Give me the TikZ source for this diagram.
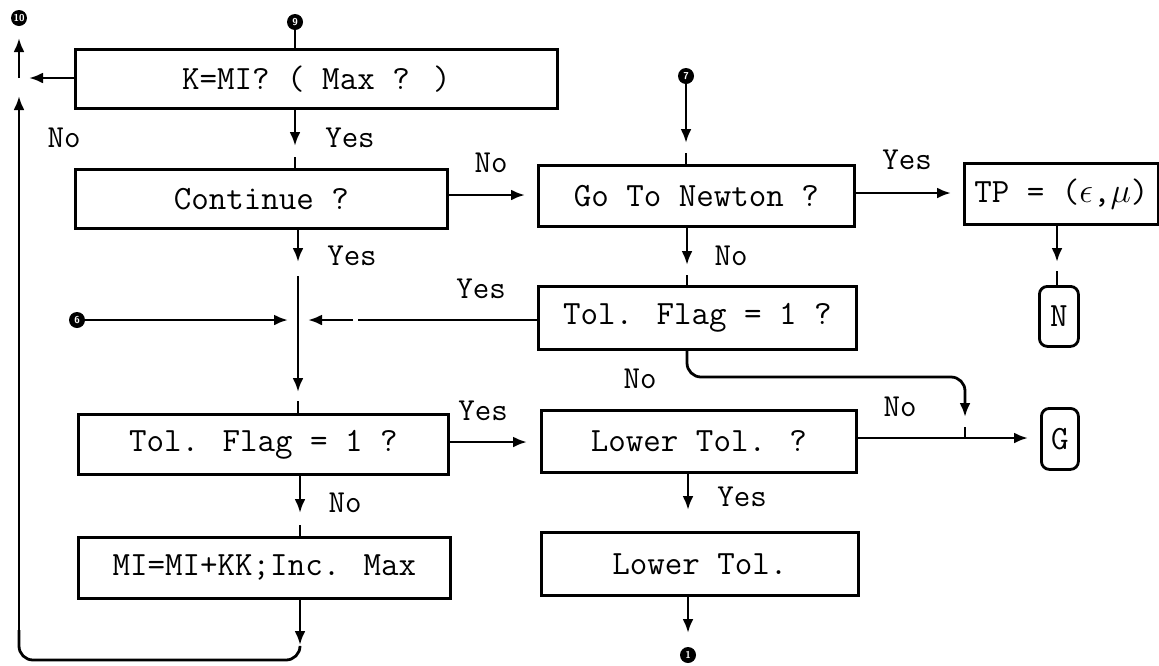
\documentclass[tikz,border=0pt]{standalone}
\usepackage{fontspec}
\usetikzlibrary{arrows.meta}
\begin{document}
\begin{tikzpicture}[x=0.5pt,y=-0.5pt,
  box/.style={draw, line width=1.4pt, inner sep=0pt, anchor=north west, font=\ttfamily\fontsize{17}{20}\selectfont},
  rbox/.style={box, rounded corners=4pt},
  lbl/.style={font=\ttfamily\fontsize{16}{18}\selectfont, inner sep=0pt},
  ln/.style={line width=1.4pt},
  arr/.style={ln, -{Latex[length=7pt,width=5.5pt]}},
  dot/.style={circle, fill=black, text=white, inner sep=0pt, minimum size=8pt, font=\sffamily\bfseries\fontsize{5}{5}\selectfont}]
\useasboundingbox (0,0) rectangle (1159,665);
% column coordinates
\coordinate (cA) at (295,0);
\coordinate (cL) at (298,0);
\coordinate (cM) at (300,0);
\coordinate (cR) at (687,0);
\coordinate (cN) at (1057,0);
\coordinate (cE) at (19,0);
% boxes
\node[box, minimum width=241pt, minimum height=29.5pt] (K) at (74,48) {K=MI? ( Max ? )\hspace{23pt}};
\node[box, minimum width=186pt, minimum height=29.5pt] (Cont) at (74,168) {Continue ?\hspace{10pt}};
\node[box, minimum width=158pt, minimum height=30.5pt] (GoN) at (537,164) {Go To Newton ?};
\node[box, minimum width=97pt, minimum height=30.5pt] (TP) at (963,162) {TP = (\(\epsilon\),\(\mu\))};
\node[rbox, minimum width=19.5pt, minimum height=30pt] (N) at (1038,285) {N};
\node[box, minimum width=159pt, minimum height=31.5pt] (TolR) at (537,285) {Tol. Flag = 1 ?};
\node[box, minimum width=157.5pt, minimum height=31pt] (LowQ) at (540,409) {Lower Tol. ?};
\node[rbox, minimum width=18.5pt, minimum height=30.5pt] (G) at (1040,407) {G};
\node[box, minimum width=185pt, minimum height=30pt] (TolL) at (77,413) {Tol. Flag = 1 ?\hspace{19pt}};
\node[box, minimum width=186pt, minimum height=30.5pt] (MI) at (77,536) {MI=MI+KK;Inc. Max};
\node[box, minimum width=158.5pt, minimum height=31.5pt] (Low) at (540,531) {Lower Tol.};
% off-page connector dots
\node[dot] (d10) at (19,18) {10};
\node[dot] (d9) at (295,22) {9};
\node[dot] (d7) at (686,76) {7};
\node[dot] (d6) at (77,320) {6};
\node[dot] (d1) at (688,655) {1};
% junctions
\coordinate (jE) at (19,78);
\coordinate (jL) at (298,320);
\coordinate (jG) at (965,438);
% connectors, left column
\draw[ln] (d9) -- (K.north -| cA);
\draw[arr] (K.west |- jE) -- (29,78);
\draw[arr] (jE) -- (19,38);
\draw[arr] (19,640) -- (19,96);
\draw[ln, rounded corners=7pt] (cM |- 0,647) -- (300,660) -- (19,660) -- (19,630);
\draw[arr] (K.south -| cA) -- (295,146);
\draw[ln] (295,157) -- (Cont.north -| cA);
\draw[arr] (Cont.south -| cL) -- (298,262);
\draw[ln] (298,276) -- (jL);
\draw[arr] (jL) -- (298,392);
\draw[ln] (298,401) -- (TolL.north -| cL);
\draw[arr] (d6) -- (288,320);
\draw[ln] (TolR.west |- jL) -- (358,320);
\draw[arr] (353,320) -- (308,320);
\draw[arr] (TolL.south -| cM) -- (300,513);
\draw[ln] (300,525) -- (MI.north -| cM);
\draw[arr] (MI.south -| cM) -- (300,645);
% connectors, horizontal
\draw[arr] (Cont.east |- 0,195) -- (525,195);
\draw[arr] (GoN.east |- 0,193) -- (951,193);
\draw[arr] (TolL.east |- 0,442) -- (527,442);
\draw[arr] (LowQ.east |- jG) -- (1028,438);
% connectors, right column
\draw[arr] (d7) -- (686,143);
\draw[ln] (686,153) -- (GoN.north -| d7);
\draw[arr] (GoN.south -| cR) -- (687,265);
\draw[ln] (687,275) -- (TolR.north -| cR);
\draw[arr] (TP.south -| cN) -- (1057,262);
\draw[ln] (1057,271) -- (N.north -| cN);
\draw[arr, rounded corners=7pt] (TolR.south -| cR) -- (687,377) -- (965,377) -- (965,417);
\draw[ln] (965,427) -- (jG);
\draw[arr] (LowQ.south -| 688,0) -- (688,510);
\draw[arr] (Low.south -| 688,0) -- (688,633);
% labels
\node[lbl] (l1) at (64,138) {No};
\node[lbl] (l2) at (350,138) {Yes};
\node[lbl] (l3) at (491,163) {No};
\node[lbl] (l4) at (352,256) {Yes};
\node[lbl] (l5) at (907,160) {Yes};
\node[lbl] (l6) at (731,256) {No};
\node[lbl] (l7) at (481,289) {Yes};
\node[lbl] (l8) at (640,379) {No};
\node[lbl] (l9) at (483,411) {Yes};
\node[lbl] (l10) at (900,407) {No};
\node[lbl] (l11) at (345,503) {No};
\node[lbl] (l12) at (742,497) {Yes};
\end{tikzpicture}
\end{document}
